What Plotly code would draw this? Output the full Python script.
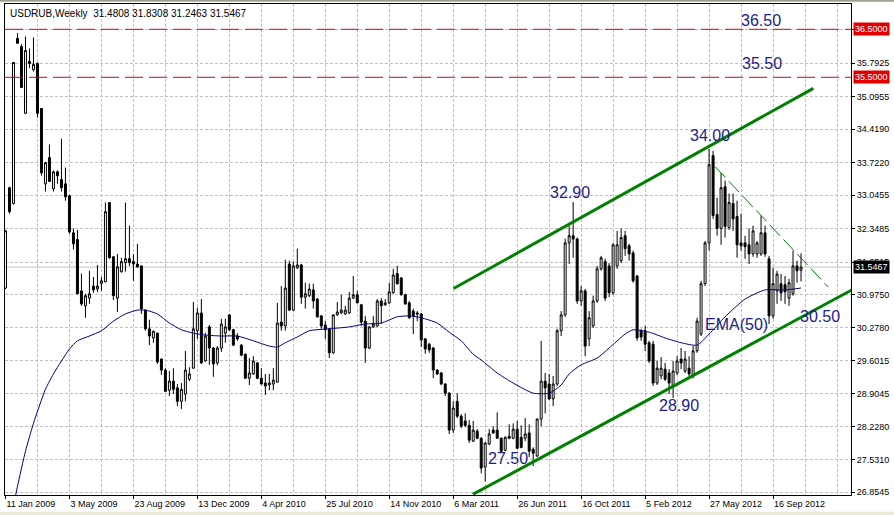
import plotly.graph_objects as go
import pandas as pd

GRID = "#C0C0C0"
NAVY = "#1C1C8C"
RED = "#E00000"
GREEN = "#008000"
EMA_BLUE = "#00007F"
FONT = "Liberation Sans, Arial, sans-serif"

START = pd.Timestamp("2009-01-11")
dates = pd.date_range(START, periods=200, freq="7D")

opens = [
    31.11, 33.20, 32.87, 36.31, 36.14, 34.75, 35.83, 35.66, 35.79, 34.85,
    33.28, 33.83, 33.18, 33.53, 33.37, 33.28, 33.03, 32.26, 32.12, 31.05,
    30.74, 30.90, 31.15, 31.09, 31.20, 31.24, 32.89, 31.76, 30.90, 31.45,
    31.64, 31.72, 31.66, 31.61, 31.57, 30.65, 30.26, 30.07, 30.17, 29.63,
    29.40, 28.98, 29.17, 29.03, 28.75, 28.90, 29.21, 29.44, 30.22, 30.59,
    29.59, 30.30, 29.86, 29.55, 29.86, 30.17, 30.55, 30.24, 30.11, 29.92,
    29.73, 29.23, 29.32, 29.55, 29.23, 29.13, 29.09, 29.11, 29.15, 30.40,
    30.32, 31.61, 30.65, 31.53, 31.59, 30.92, 30.95, 31.07, 30.88, 30.53,
    30.34, 30.26, 29.76, 30.55, 30.59, 30.57, 30.59, 30.90, 30.97, 30.76,
    30.42, 29.86, 30.30, 30.32, 30.84, 30.76, 30.80, 31.01, 31.41, 31.32,
    30.97, 30.80, 30.63, 30.59, 30.57, 30.05, 29.94, 29.86, 29.40, 29.34,
    29.11, 28.92, 28.15, 28.75, 28.44, 28.34, 28.25, 27.92, 28.13, 27.98,
    27.38, 27.86, 28.15, 28.15, 27.98, 27.73, 28.02, 27.98, 28.17, 28.00,
    27.98, 28.09, 27.75, 27.61, 28.38, 29.17, 29.11, 28.80, 29.11, 30.22,
    30.55, 32.05, 32.20, 32.13, 30.84, 31.05, 30.05, 30.32, 30.84, 31.51,
    31.66, 31.57, 31.01, 31.57, 31.68, 32.20, 31.99, 31.84, 31.36, 30.22,
    30.22, 29.97, 29.94, 29.13, 29.28, 29.42, 29.34, 29.05, 29.34, 29.63,
    29.38, 29.44, 29.28, 29.80, 30.15, 31.20, 32.05, 33.87, 32.64, 32.35,
    33.22, 32.37, 32.87, 32.60, 32.05, 32.05, 32.01, 31.82, 31.82, 31.82,
    32.26, 31.72, 30.53, 31.05, 31.20, 31.18, 30.90, 30.99, 31.57, 31.4808,
]
highs = [
    32.32, 33.22, 35.82, 36.42, 36.19, 36.35, 36.10, 36.33, 35.81, 34.86,
    33.74, 34.10, 33.56, 33.56, 34.22, 33.62, 33.05, 32.35, 32.32, 31.41,
    30.99, 31.47, 31.34, 31.59, 31.34, 32.89, 32.90, 31.78, 31.82, 31.74,
    32.89, 32.41, 31.82, 32.03, 31.58, 30.66, 30.45, 30.22, 30.18, 29.64,
    29.44, 29.38, 29.44, 29.11, 29.13, 29.80, 29.46, 30.82, 30.70, 30.88,
    30.18, 30.34, 29.88, 29.90, 30.47, 30.47, 30.57, 30.26, 30.17, 29.94,
    29.75, 29.65, 29.69, 29.57, 29.44, 29.32, 29.32, 29.44, 30.80, 31.15,
    31.70, 31.68, 31.66, 31.93, 31.61, 31.22, 31.20, 31.20, 30.90, 30.54,
    30.42, 30.28, 30.56, 30.82, 30.97, 30.74, 31.03, 31.36, 31.05, 30.78,
    30.53, 30.31, 30.53, 30.88, 30.90, 30.88, 31.22, 31.51, 31.57, 31.34,
    30.99, 30.84, 30.68, 30.63, 30.59, 30.07, 29.97, 29.88, 29.42, 29.36,
    29.13, 28.94, 28.75, 28.92, 28.48, 28.50, 28.36, 28.34, 28.17, 28.00,
    27.90, 28.17, 28.23, 28.52, 28.00, 28.02, 28.27, 28.29, 28.34, 28.25,
    28.40, 28.27, 27.79, 28.39, 30.01, 29.34, 29.32, 29.28, 30.26, 30.63,
    32.14, 32.41, 32.90, 32.16, 31.15, 31.09, 30.63, 30.95, 31.57, 31.78,
    31.72, 31.63, 32.05, 32.30, 32.35, 32.30, 32.03, 31.89, 31.38, 30.26,
    30.32, 30.01, 30.01, 29.59, 29.67, 29.55, 29.42, 29.59, 29.69, 29.86,
    29.80, 29.69, 29.90, 30.49, 31.26, 32.09, 34.01, 33.97, 32.99, 33.51,
    33.35, 33.08, 33.08, 32.93, 32.66, 32.20, 32.35, 32.41, 32.09, 32.62,
    32.41, 31.78, 31.53, 31.47, 31.40, 31.36, 31.30, 31.89, 31.68, 31.8308,
]
lows = [
    31.09, 32.66, 32.85, 36.20, 35.28, 34.73, 35.69, 35.62, 34.66, 33.45,
    33.12, 33.32, 33.12, 33.28, 33.12, 32.93, 32.24, 31.91, 30.98, 30.74,
    30.49, 30.78, 31.01, 31.03, 31.05, 31.23, 31.72, 30.86, 30.61, 31.43,
    31.45, 31.57, 31.26, 31.53, 30.57, 30.22, 29.92, 29.97, 29.53, 29.30,
    28.94, 28.86, 28.90, 28.65, 28.59, 28.75, 29.17, 29.43, 30.05, 29.53,
    29.57, 29.51, 29.26, 29.50, 29.78, 29.97, 30.22, 29.90, 30.01, 29.69,
    29.22, 29.09, 29.30, 29.21, 29.10, 28.88, 28.98, 28.98, 29.14, 30.22,
    30.22, 30.63, 30.63, 31.51, 30.78, 30.68, 30.92, 30.68, 30.49, 30.26,
    30.05, 29.65, 29.74, 30.53, 30.57, 30.55, 30.57, 30.88, 30.79, 30.32,
    29.55, 29.84, 30.28, 30.30, 30.36, 30.74, 30.78, 30.99, 31.18, 30.95,
    30.76, 30.47, 30.15, 30.42, 29.88, 29.74, 29.76, 29.23, 29.30, 29.09,
    28.86, 28.07, 28.09, 28.40, 28.19, 28.21, 27.88, 27.90, 27.96, 27.25,
    27.08, 27.84, 28.07, 27.97, 27.69, 27.71, 27.96, 27.96, 27.76, 27.77,
    27.92, 27.59, 27.40, 27.59, 28.23, 28.50, 28.78, 28.65, 29.07, 30.11,
    30.51, 31.61, 31.74, 30.78, 30.74, 29.69, 29.90, 30.28, 30.80, 31.47,
    30.84, 30.92, 30.97, 31.51, 31.63, 31.78, 31.68, 31.22, 30.01, 30.01,
    29.80, 29.55, 29.07, 29.09, 29.21, 29.17, 28.90, 28.82, 29.30, 29.42,
    29.34, 29.28, 29.23, 29.76, 30.11, 31.15, 31.89, 32.55, 32.20, 32.01,
    32.16, 32.32, 32.30, 31.74, 31.89, 31.72, 31.61, 31.76, 31.74, 31.78,
    31.76, 30.36, 30.47, 30.78, 30.84, 30.78, 30.74, 30.95, 31.22, 31.2463,
]
closes = [
    32.30, 32.70, 35.81, 36.21, 35.29, 36.06, 35.79, 35.77, 34.75, 33.51,
    33.72, 33.33, 33.53, 33.45, 33.20, 33.01, 32.28, 32.03, 30.99, 30.78,
    30.95, 30.99, 31.07, 31.15, 31.26, 32.70, 31.74, 30.95, 31.55, 31.66,
    31.72, 31.64, 31.61, 31.55, 30.68, 30.26, 30.11, 30.21, 29.57, 29.40,
    28.96, 29.17, 29.00, 28.75, 29.00, 29.40, 29.32, 30.26, 30.59, 29.55,
    30.11, 29.86, 29.53, 29.86, 30.36, 30.30, 30.24, 29.92, 30.05, 29.71,
    29.23, 29.34, 29.59, 29.23, 29.11, 29.07, 29.13, 29.19, 30.38, 30.32,
    31.11, 30.65, 31.57, 31.59, 30.92, 30.99, 31.09, 30.84, 30.51, 30.32,
    30.24, 29.76, 30.55, 30.61, 30.65, 30.65, 30.90, 30.97, 30.80, 30.40,
    29.86, 30.30, 30.36, 30.84, 30.74, 30.80, 31.03, 31.38, 31.20, 30.97,
    30.78, 30.49, 30.53, 30.57, 30.03, 29.84, 29.82, 29.40, 29.32, 29.11,
    28.92, 28.15, 28.61, 28.44, 28.23, 28.25, 27.94, 28.15, 27.98, 27.36,
    27.88, 28.07, 28.09, 27.98, 27.71, 28.00, 27.98, 28.17, 27.77, 27.79,
    28.07, 27.71, 27.67, 28.38, 29.17, 29.03, 28.80, 29.11, 30.22, 30.55,
    32.05, 32.20, 32.13, 30.84, 31.05, 29.90, 30.49, 30.84, 31.51, 31.74,
    30.90, 31.01, 32.01, 32.01, 32.16, 31.93, 31.82, 31.26, 30.07, 30.09,
    29.94, 29.59, 29.13, 29.44, 29.44, 29.21, 29.13, 29.38, 29.59, 29.55,
    29.63, 29.32, 29.80, 30.42, 31.20, 32.05, 33.68, 32.62, 32.35, 33.20,
    32.39, 32.89, 32.55, 32.01, 31.99, 31.97, 31.82, 32.30, 32.05, 32.26,
    31.82, 30.53, 31.20, 31.40, 31.01, 31.03, 31.22, 31.57, 31.47, 31.5467,
]

# EMA(50) (week index from 11 Jan 2009, price)
ema_week = [2, 3, 5, 7, 10, 12, 14, 16, 18, 21, 24, 27, 30, 33, 35, 38, 41, 44, 47, 50,
            54, 58, 62, 66, 68, 70, 73, 76, 81, 86, 90, 94, 98, 101, 104, 108, 111, 114, 117, 119,
            123, 127, 132, 136, 139, 141, 144, 148, 151, 155, 157, 161, 165, 169, 173, 176, 180, 185, 190, 195,
            199]
ema_val = [26.56, 26.98, 27.71, 28.29, 29.00, 29.32, 29.59, 29.84, 30.01, 30.11,
           30.22, 30.42, 30.57, 30.65, 30.65, 30.57, 30.38, 30.24, 30.17, 30.13,
           30.11, 30.11, 30.01, 29.90, 29.88, 29.97, 30.09, 30.22, 30.26, 30.30,
           30.36, 30.38, 30.51, 30.53, 30.49, 30.38, 30.19, 30.01, 29.73, 29.61,
           29.34, 29.13, 28.92, 28.92, 29.09, 29.32, 29.51, 29.65, 29.86, 30.15,
           30.24, 30.19, 30.07, 29.97, 29.92, 30.15, 30.51, 30.88, 31.07, 31.07,
           31.11]

# channel and trend lines (week index, price)
upper_week = [112.08, 202.08]
upper_price = [31.10, 35.27]
lower_week = [116.9, 211.7]
lower_price = [26.81, 31.07]
down_week = [177.5, 205.8]
down_price = [33.64, 31.13]

levels = [36.5, 35.5]
last_price = 31.5467

ytick_vals = [26.8545, 27.5310, 28.2280, 28.9045, 29.6015, 30.2780, 30.9750, 31.6515,
              32.3485, 33.0455, 33.7220, 34.4190, 35.0955, 35.7925, 36.4895]
ytick_text = [f"{v:.4f}" for v in ytick_vals[:-1]] + [""]

labels = [
    ("36.50", 189.0, 36.69),
    ("35.50", 189.25, 35.78),
    ("34.00", 176.25, 34.29),
    ("32.90", 141.25, 33.09),
    ("EMA(50)", 182.9, 30.36),
    ("30.50", 203.75, 30.51),
    ("28.90", 168.5, 28.67),
    ("27.50", 125.6, 27.55),
]


def wk(n):
    return START + pd.Timedelta(weeks=n)


fig = go.Figure()

fig.add_trace(go.Scatter(
    x=[wk(n) for n in ema_week], y=ema_val, mode="lines",
    line=dict(color=EMA_BLUE, width=1, shape="spline", smoothing=0.6),
    hoverinfo="skip", showlegend=False,
))

fig.add_trace(go.Candlestick(
    x=dates, open=opens, high=highs, low=lows, close=closes,
    increasing=dict(fillcolor="white", line=dict(color="black", width=1)),
    decreasing=dict(fillcolor="black", line=dict(color="black", width=1)),
    whiskerwidth=0, hoverinfo="skip", showlegend=False,
))

for wks, prices in [(upper_week, upper_price), (lower_week, lower_price)]:
    fig.add_trace(go.Scatter(
        x=[wk(n) for n in wks], y=prices, mode="lines",
        line=dict(color=GREEN, width=3), hoverinfo="skip", showlegend=False,
    ))

fig.add_trace(go.Scatter(
    x=[wk(n) for n in down_week], y=down_price, mode="lines",
    line=dict(color=GREEN, width=1, dash="15px,5px"), hoverinfo="skip", showlegend=False,
))

shapes = []
shapes.append(dict(type="line", xref="paper", x0=0, x1=1, yref="y", y0=last_price, y1=last_price,
                   line=dict(color=GRID, width=1), layer="below"))
for lv in levels:
    shapes.append(dict(type="line", xref="paper", x0=0, x1=1, yref="y", y0=lv, y1=lv,
                       line=dict(color=RED, width=1, dash="18px,6px"), layer="above"))
# window chrome bands
shapes.append(dict(type="rect", xref="paper", yref="paper", x0=-0.01, x1=1.06, y0=-0.034, y1=-0.045,
                   line=dict(width=0), fillcolor="#ECE9D8"))
shapes.append(dict(type="rect", xref="paper", yref="paper", x0=-0.01, x1=1.06, y0=1.0047, y1=1.012,
                   line=dict(width=0), fillcolor="#A09D95"))

annotations = []
for text, n, p in labels:
    annotations.append(dict(x=wk(n), y=p, text=text, showarrow=False, xanchor="center", yanchor="middle",
                            font=dict(family=FONT, size=16, color=NAVY)))

for lv in levels:
    annotations.append(dict(xref="paper", x=1, xanchor="left", xshift=2, y=lv, yanchor="middle",
                            text=f"{lv:.4f}", showarrow=False, bgcolor=RED, borderpad=1,
                            font=dict(family=FONT, size=9, color="white")))
annotations.append(dict(xref="paper", x=1, xanchor="left", xshift=2, y=last_price, yanchor="middle",
                        text=f"{last_price:.4f}", showarrow=False, bgcolor="black", borderpad=1,
                        font=dict(family=FONT, size=9, color="white")))

annotations.append(dict(xref="paper", yref="paper", x=0, y=1, xanchor="left", yanchor="middle",
                        xshift=3, yshift=-9, showarrow=False,
                        text="USDRUB,Weekly&nbsp; %.4f %.4f %.4f %.4f" % (opens[-1], highs[-1], lows[-1], closes[-1]),
                        font=dict(family=FONT, size=10, color="black")))

fig.update_layout(
    width=894, height=515,
    margin=dict(l=5, r=43, t=4, b=20),
    paper_bgcolor="white", plot_bgcolor="white",
    font=dict(family=FONT, size=9, color="black"),
    showlegend=False,
    shapes=shapes,
    annotations=annotations,
    xaxis=dict(
        type="date",
        range=[wk(-0.12), wk(211.5)],
        rangeslider=dict(visible=False),
        tickvals=[wk(n) for n in range(0, 193, 16)],
        tickformat="%-d %b %Y",
        ticklabelposition="outside right",
        ticks="outside", ticklen=3, tickcolor="black",
        showgrid=True, gridcolor=GRID, griddash="3px,2px", gridwidth=1,
        minor=dict(tickvals=[wk(n) for n in list(range(8, 201, 16)) + [208]],
                   showgrid=True, gridcolor=GRID, griddash="3px,2px", ticks=""),
        showline=True, linecolor="black", linewidth=1, mirror=True,
        zeroline=False,
        tickfont=dict(family=FONT, size=9, color="black"),
    ),
    yaxis=dict(
        side="right",
        range=[26.798, 37.027],
        tickvals=ytick_vals, ticktext=ytick_text,
        ticks="outside", ticklen=3, tickcolor="black",
        showgrid=True, gridcolor=GRID, griddash="3px,2px", gridwidth=1,
        showline=True, linecolor="black", linewidth=1, mirror=True,
        zeroline=False,
        tickfont=dict(family=FONT, size=9, color="black"),
    ),
)

fig.write_html("out.html", config={"displayModeBar": False},
               post_script="document.body.style.margin='0';")
